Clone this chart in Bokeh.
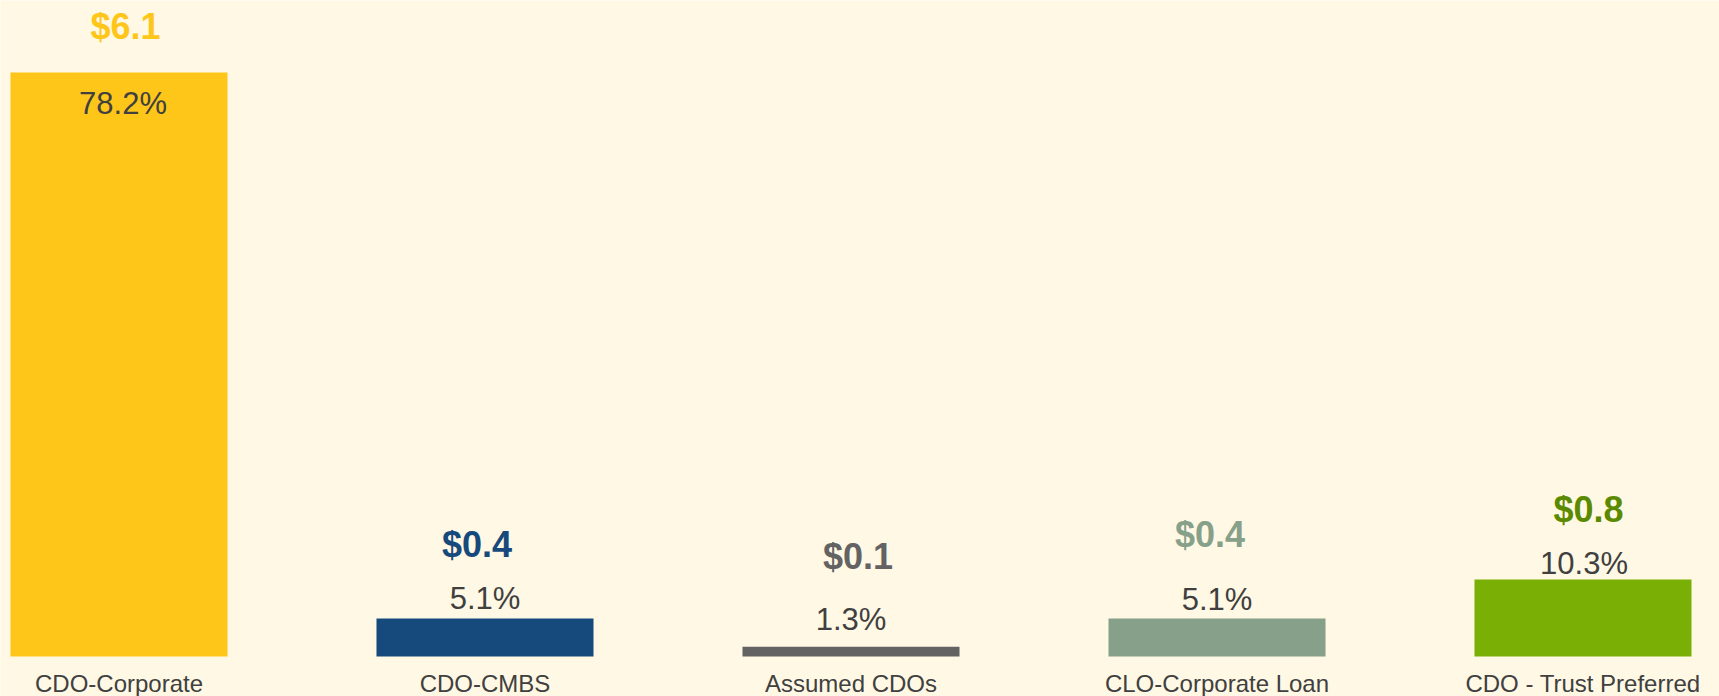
from bokeh.plotting import figure
from bokeh.models import ColumnDataSource, Range1d
from bokeh.core.properties import value
from bokeh.embed import file_html
from bokeh.resources import INLINE

# ---- data ----
categories = ["CDO-Corporate", "CDO-CMBS", "Assumed CDOs", "CLO-Corporate Loan", "CDO - Trust Preferred"]
pct_values = [78.2, 5.1, 1.3, 5.1, 10.3]
dollar_values = [6.1, 0.4, 0.1, 0.4, 0.8]
pct_labels = ["78.2%", "5.1%", "1.3%", "5.1%", "10.3%"]
dollar_labels = ["$6.1", "$0.4", "$0.1", "$0.4", "$0.8"]

# ---- styles ----
bar_colors = ["#FFC61A", "#174A7C", "#636363", "#87A08A", "#7AAF05"]
dollar_colors = ["#FFC61A", "#174A7C", "#636363", "#87A08A", "#5B8A00"]
# label offsets from the bar top (pixels, negative = upwards)
pct_offsets = [31, -20, -27.5, -19, -16.5]
pct_xoffsets = [4, 0, 0, 0, 1]
dollar_offsets = [-46.5, -74, -90.5, -83.5, -70.5]
dollar_xoffsets = [6.5, -8, 7, -7, 5.5]

BG = "#FFF8E4"
FONT = "Liberation Sans"

W, H = 1719, 696
xs = list(range(len(categories)))

src = ColumnDataSource(dict(
    x=xs, top=pct_values, cat=categories, pct=pct_labels, dol=dollar_labels,
    bc=bar_colors, dc=dollar_colors, po=pct_offsets, pxo=pct_xoffsets,
    do=dollar_offsets, dxo=dollar_xoffsets,
    cy=[-3.55] * len(xs),
))

x0 = -118.5 / 366.0
p = figure(width=W, height=H, output_backend="svg", toolbar_location=None,
           x_range=Range1d(x0, x0 + W / 366.0),
           y_range=Range1d(-40 / 7.468, 656 / 7.468),
           min_border=0, outline_line_color=None,
           background_fill_color=BG, border_fill_color=BG)
p.axis.visible = False
p.grid.visible = False

p.vbar(x="x", top="top", bottom=0, width=0.593, color="bc", line_color=None, source=src)

p.text(x="x", y="top", text="pct", x_offset="pxo", y_offset="po", source=src,
       text_align="center", text_baseline="middle",
       text_font=value(FONT), text_font_size="31px", text_color="#404040")

p.text(x="x", y="top", text="dol", x_offset="dxo", y_offset="do", source=src,
       text_align="center", text_baseline="middle",
       text_font=value(FONT), text_font_size="36px", text_font_style="bold",
       text_color="dc")

p.text(x="x", y="cy", text="cat", source=src,
       text_align="center", text_baseline="middle",
       text_font=value(FONT), text_font_size="24px", text_color="#404040")

open("out.html", "w").write(file_html(p, INLINE))
